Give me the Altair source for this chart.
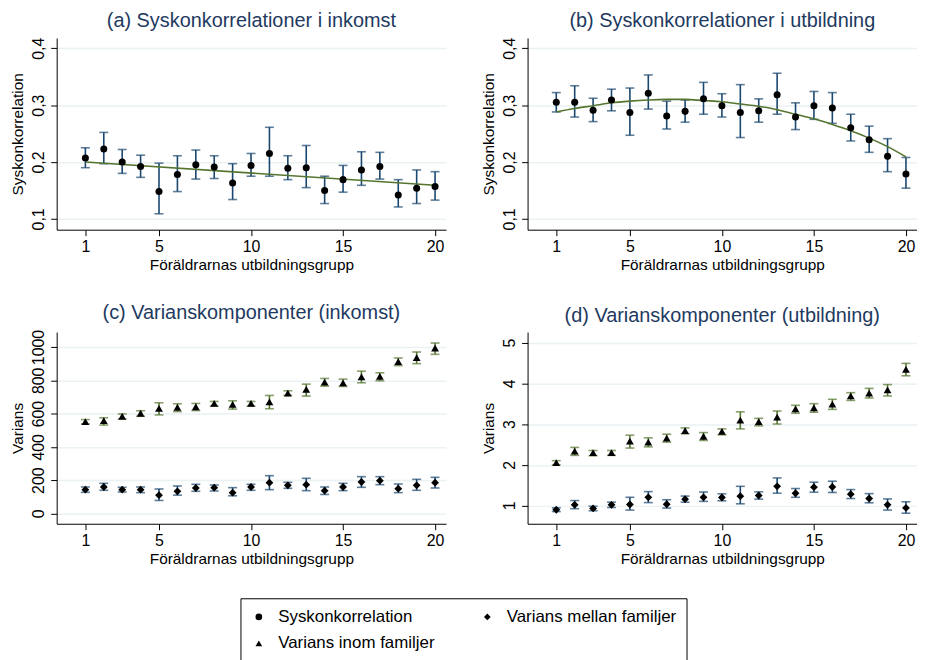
import altair as alt
import pandas as pd

X = list(range(1, 21))
SERIES = ["Syskonkorrelation", "Varians inom familjer", "Varians mellan familjer"]
CODES = ["1", "2", "3"]
SHAPES = ["circle", "triangle-up", "diamond"]

A_RHO = [0.207, 0.223, 0.200, 0.192, 0.148, 0.178, 0.195, 0.191, 0.163, 0.194, 0.215, 0.189, 0.190, 0.150, 0.169, 0.186, 0.192, 0.142, 0.154, 0.157]
A_LO = [0.190, 0.197, 0.180, 0.173, 0.109, 0.148, 0.170, 0.171, 0.134, 0.175, 0.175, 0.169, 0.155, 0.127, 0.147, 0.159, 0.170, 0.121, 0.127, 0.133]
A_HI = [0.225, 0.252, 0.222, 0.212, 0.198, 0.211, 0.221, 0.211, 0.197, 0.215, 0.261, 0.211, 0.229, 0.175, 0.194, 0.218, 0.217, 0.169, 0.186, 0.183]
A_FIT_X = [1, 20]
A_FIT = [0.200, 0.159]

B_RHO = [0.305, 0.305, 0.291, 0.309, 0.287, 0.321, 0.281, 0.289, 0.311, 0.299, 0.287, 0.290, 0.318, 0.279, 0.299, 0.295, 0.260, 0.239, 0.210, 0.179]
B_LO = [0.288, 0.279, 0.271, 0.290, 0.247, 0.293, 0.258, 0.270, 0.284, 0.279, 0.243, 0.270, 0.284, 0.257, 0.275, 0.268, 0.237, 0.217, 0.183, 0.154]
B_HI = [0.322, 0.334, 0.312, 0.328, 0.330, 0.353, 0.307, 0.309, 0.340, 0.320, 0.336, 0.311, 0.356, 0.304, 0.324, 0.322, 0.284, 0.263, 0.241, 0.208]
B_FIT = [0.288, 0.294, 0.299, 0.304, 0.307, 0.309, 0.310, 0.310, 0.308, 0.306, 0.302, 0.298, 0.292, 0.284, 0.276, 0.266, 0.255, 0.242, 0.227, 0.209]

C_WITHIN = [552, 558, 584, 602, 631, 637, 641, 661, 655, 661, 671, 723, 745, 789, 785, 821, 823, 912, 936, 994]
C_WITHIN_LO = [538, 531, 568, 584, 592, 612, 618, 645, 627, 645, 629, 709, 705, 765, 763, 785, 797, 888, 900, 956]
C_WITHIN_HI = [564, 575, 598, 617, 665, 659, 661, 673, 677, 673, 709, 737, 777, 811, 807, 855, 845, 934, 970, 1024]
C_BETWEEN = [143, 159, 143, 143, 110, 133, 153, 155, 125, 159, 185, 169, 173, 137, 159, 189, 197, 149, 169, 185]
C_BETWEEN_LO = [127, 139, 129, 125, 78, 110, 133, 135, 106, 139, 143, 151, 137, 114, 137, 157, 173, 125, 139, 153]
C_BETWEEN_HI = [159, 181, 157, 159, 147, 165, 175, 171, 155, 175, 227, 187, 211, 159, 181, 221, 221, 177, 205, 217]

D_WITHIN = [2.05, 2.336, 2.295, 2.295, 2.58, 2.556, 2.654, 2.84, 2.70, 2.817, 3.094, 3.06, 3.167, 3.37, 3.40, 3.49, 3.69, 3.76, 3.84, 4.34]
D_WITHIN_LO = [2.00, 2.23, 2.22, 2.23, 2.41, 2.44, 2.556, 2.76, 2.597, 2.735, 2.88, 2.955, 3.00, 3.265, 3.29, 3.36, 3.58, 3.64, 3.69, 4.185]
D_WITHIN_HI = [2.10, 2.426, 2.35, 2.35, 2.727, 2.66, 2.75, 2.906, 2.79, 2.88, 3.30, 3.14, 3.32, 3.46, 3.50, 3.607, 3.77, 3.876, 3.97, 4.49]
D_BETWEEN = [0.894, 1.016, 0.927, 1.016, 1.024, 1.20, 1.03, 1.155, 1.20, 1.196, 1.228, 1.244, 1.47, 1.30, 1.45, 1.456, 1.277, 1.17, 1.016, 0.94]
D_BETWEEN_LO = [0.85, 0.92, 0.87, 0.95, 0.886, 1.07, 0.935, 1.08, 1.10, 1.114, 1.04, 1.155, 1.30, 1.20, 1.326, 1.318, 1.17, 1.065, 0.886, 0.81]
D_BETWEEN_HI = [0.94, 1.12, 0.98, 1.08, 1.20, 1.34, 1.14, 1.23, 1.33, 1.285, 1.47, 1.334, 1.676, 1.415, 1.57, 1.595, 1.39, 1.29, 1.16, 1.09]

BLUE = "#1a476f"
GREEN = "#55752f"
FONT = "Liberation Sans"
W, H = 392, 193
XTITLE = "Föräldrarnas utbildningsgrupp"

LABEL_EXPR = "datum.label == '1' ? '%s' : datum.label == '2' ? '%s' : '%s'" % tuple(SERIES)

LEGEND = alt.Legend(
    orient="none", legendX=185, legendY=564, columns=2, title=None,
    strokeColor="black", padding=10, columnPadding=44,
    rowPadding=9, labelFontSize=17, labelFont=FONT, labelColor="black",
    labelOffset=11, labelLimit=400, symbolSize=45, symbolFillColor="black",
    symbolStrokeColor="black", symbolStrokeWidth=0, labelExpr=LABEL_EXPR,
)


def xenc():
    return alt.X("x:Q", scale=alt.Scale(domain=[-0.56, 20.6], nice=False, zero=False),
                 axis=alt.Axis(values=[1, 5, 10, 15, 20], title=XTITLE, grid=False))


def yenc(field, domain, ticks, ytitle, comma):
    kw = {}
    if comma:
        kw["labelExpr"] = "replace(format(datum.value, '.1f'), '.', ',')"
    else:
        kw["format"] = "d"
    return alt.Y(field + ":Q", scale=alt.Scale(domain=domain, nice=False, zero=False),
                 axis=alt.Axis(values=ticks, title=ytitle, grid=True, labelAngle=-90,
                               labelAlign="center", labelBaseline="bottom",
                               labelOverlap=False, **kw))


def ci_layers(df, domain, ticks, ytitle, comma, color):
    base = alt.Chart(df)
    rule = base.mark_rule(color=color, strokeWidth=1.6).encode(
        x=xenc(), y=yenc("lo", domain, ticks, ytitle, comma), y2="hi:Q")
    cap_lo = base.mark_tick(orient="horizontal", color=color, size=9, thickness=1.6).encode(
        x=xenc(), y=yenc("lo", domain, ticks, ytitle, comma))
    cap_hi = base.mark_tick(orient="horizontal", color=color, size=9, thickness=1.6).encode(
        x=xenc(), y=yenc("hi", domain, ticks, ytitle, comma))
    return [rule, cap_lo, cap_hi]


def points(df, domain, ticks, ytitle, comma, size, legend):
    return alt.Chart(df).mark_point(filled=True, color="black", opacity=1, size=size).encode(
        x=xenc(), y=yenc("y", domain, ticks, ytitle, comma),
        shape=alt.Shape("serie:N", scale=alt.Scale(domain=CODES, range=SHAPES),
                        legend=LEGEND if legend else None))


def frame(y, lo, hi, code):
    return pd.DataFrame({"x": X, "y": y, "lo": lo, "hi": hi, "serie": code})


# (a)
dom_a, t_a = [0.081, 0.418], [0.1, 0.2, 0.3, 0.4]
df_a = frame(A_RHO, A_LO, A_HI, CODES[0])
fit_a = pd.DataFrame({"x": A_FIT_X, "y": A_FIT})
pa = alt.layer(
    *ci_layers(df_a, dom_a, t_a, "Syskonkorrelation", True, BLUE),
    alt.Chart(fit_a).mark_line(color=GREEN, strokeWidth=1.6).encode(
        x=xenc(), y=yenc("y", dom_a, t_a, "Syskonkorrelation", True)),
    points(df_a, dom_a, t_a, "Syskonkorrelation", True, 50, True),
).properties(width=W, height=H, title="(a) Syskonkorrelationer i inkomst")

# (b)
df_b = frame(B_RHO, B_LO, B_HI, CODES[0])
fit_b = pd.DataFrame({"x": X, "y": B_FIT})
pb = alt.layer(
    *ci_layers(df_b, dom_a, t_a, "Syskonkorrelation", True, BLUE),
    alt.Chart(fit_b).mark_line(color=GREEN, strokeWidth=1.6, interpolate="monotone").encode(
        x=xenc(), y=yenc("y", dom_a, t_a, "Syskonkorrelation", True)),
    points(df_b, dom_a, t_a, "Syskonkorrelation", True, 50, False),
).properties(width=W, height=H, title="(b) Syskonkorrelationer i utbildning")

# (c)
dom_c, t_c = [-62, 1090], [0, 200, 400, 600, 800, 1000]
cw = frame(C_WITHIN, C_WITHIN_LO, C_WITHIN_HI, CODES[1])
cb = frame(C_BETWEEN, C_BETWEEN_LO, C_BETWEEN_HI, CODES[2])
pc = alt.layer(
    *ci_layers(cw, dom_c, t_c, "Varians", False, GREEN),
    *ci_layers(cb, dom_c, t_c, "Varians", False, BLUE),
    points(cw, dom_c, t_c, "Varians", False, 62, True),
    points(cb, dom_c, t_c, "Varians", False, 62, True),
).properties(width=W, height=H, title="(c) Varianskomponenter (inkomst)")

# (d)
dom_d, t_d = [0.55, 5.26], [1, 2, 3, 4, 5]
dw = frame(D_WITHIN, D_WITHIN_LO, D_WITHIN_HI, CODES[1])
db = frame(D_BETWEEN, D_BETWEEN_LO, D_BETWEEN_HI, CODES[2])
pd_ = alt.layer(
    *ci_layers(dw, dom_d, t_d, "Varians", False, GREEN),
    *ci_layers(db, dom_d, t_d, "Varians", False, BLUE),
    points(dw, dom_d, t_d, "Varians", False, 62, False),
    points(db, dom_d, t_d, "Varians", False, 62, False),
).properties(width=W, height=H, title="(d) Varianskomponenter (utbildning)")

chart = alt.concat(pa, pb, pc, pd_, columns=2, spacing={"row": 30, "column": 36}).resolve_scale(
    shape="shared"
).resolve_legend(shape="shared").properties(
    padding={"top": 1, "left": 3, "right": 0, "bottom": 0}
).configure(
    font=FONT, background="white"
).configure_view(strokeWidth=0).configure_axis(
    labelFont=FONT, titleFont=FONT, labelFontSize=16, titleFontSize=15.5,
    labelColor="black", titleColor="black", titleFontWeight="normal",
    domainColor="black", domainWidth=1, tickColor="black", tickSize=6, tickWidth=1,
    gridColor="#eaf2f3", gridWidth=1.5, labelPadding=3, titlePadding=3,
).configure_axisY(titlePadding=5, labelPadding=4).configure_title(
    font=FONT, fontSize=20, fontWeight="normal", color="#1e3a5f", anchor="middle", offset=6
)

chart.save("out.html", embed_options={"renderer": "svg", "actions": False})
